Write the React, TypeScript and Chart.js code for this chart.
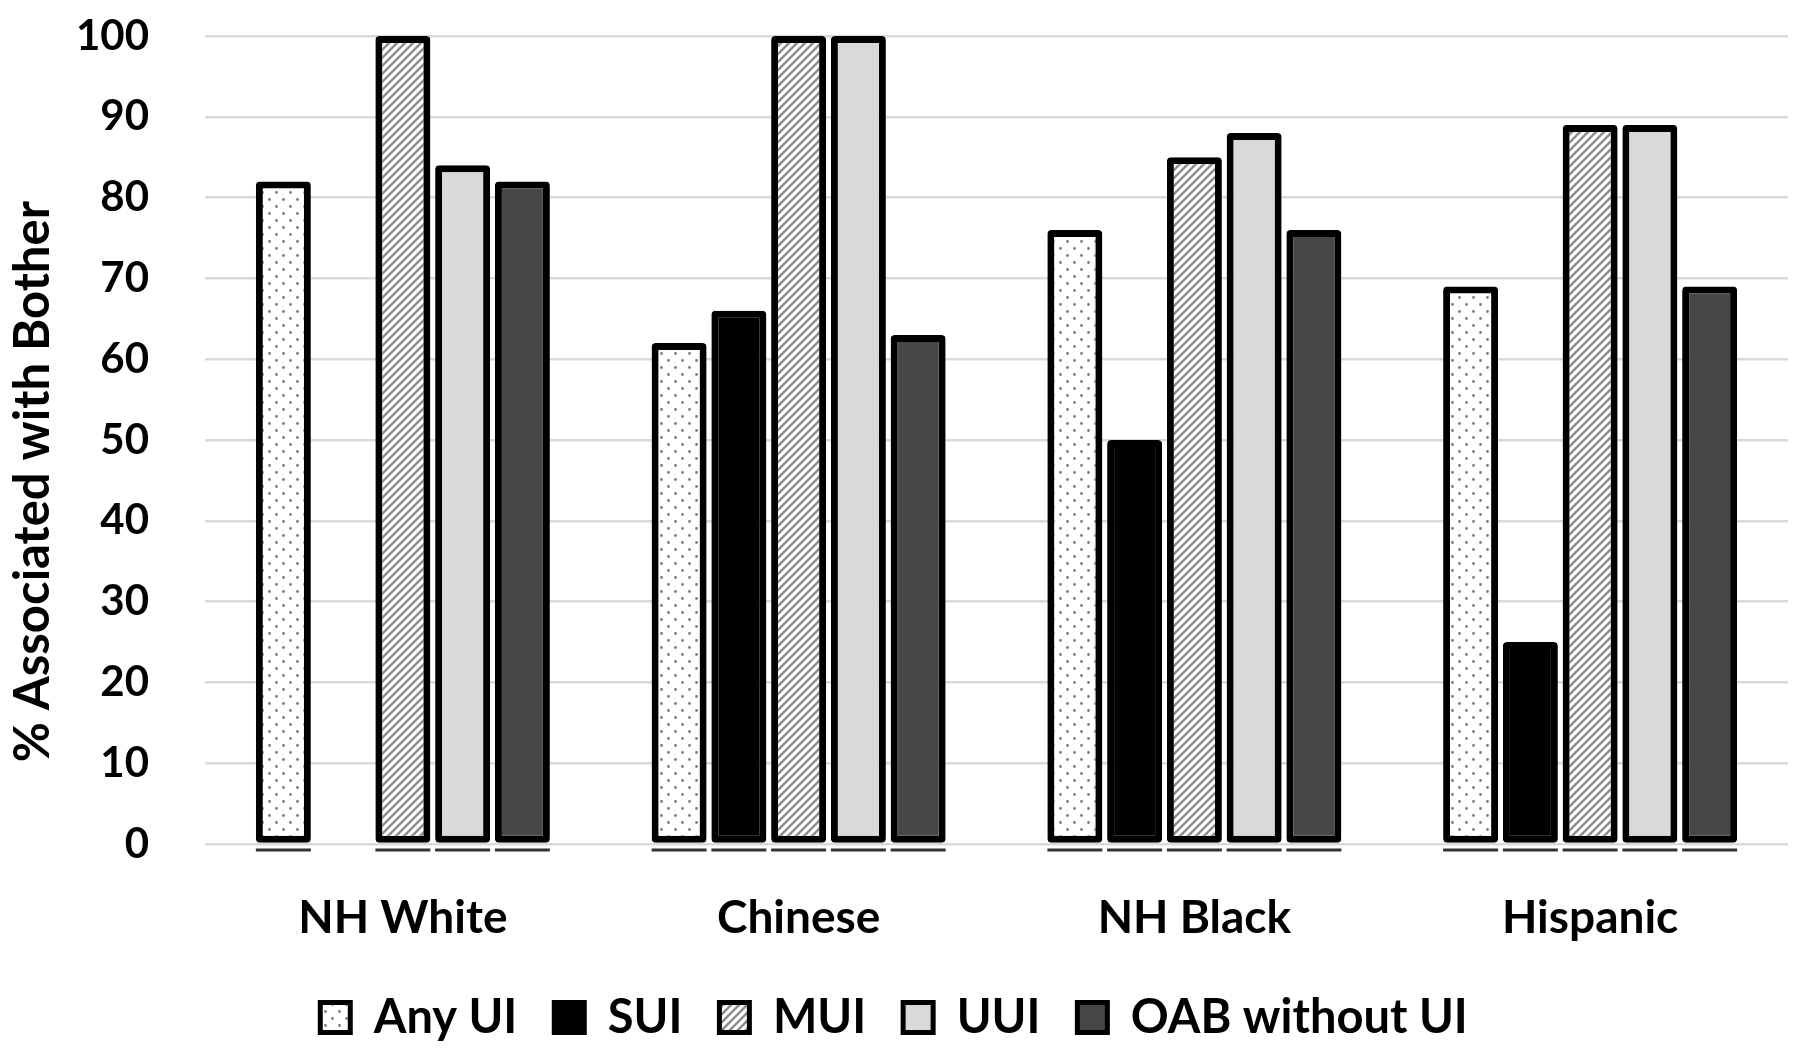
import { useEffect, useRef } from "react";
import { Chart, registerables } from "chart.js";

Chart.register(...registerables);

const categories = ["NH White", "Chinese", "NH Black", "Hispanic"];
const seriesNames = ["Any UI", "SUI", "MUI", "UUI", "OAB without UI"];
const anyUI = [82, 62, 76, 69];
const sui = [null, 66, 50, 25];
const mui = [100, 100, 85, 89];
const uui = [84, 100, 88, 89];
const oab = [82, 63, 76, 69];
const yMin = 0;
const yMax = 100;
const yStep = 10;
const yTitle = "% Associated with Bother       ";

const FONT = "Lato";

function dotPattern(): CanvasPattern | string {
  const c = document.createElement("canvas");
  c.width = 14;
  c.height = 14;
  const ctx = c.getContext("2d");
  if (!ctx) return "#fff";
  ctx.fillStyle = "#ffffff";
  ctx.fillRect(0, 0, 14, 14);
  ctx.fillStyle = "#7a7a7a";
  ctx.beginPath();
  ctx.arc(3.5, 3.5, 1.4, 0, Math.PI * 2);
  ctx.arc(10.5, 10.5, 1.4, 0, Math.PI * 2);
  ctx.fill();
  return ctx.createPattern(c, "repeat") || "#fff";
}

function diagPattern(): CanvasPattern | string {
  const s = 8;
  const c = document.createElement("canvas");
  c.width = s;
  c.height = s;
  const ctx = c.getContext("2d");
  if (!ctx) return "#fff";
  ctx.fillStyle = "#ffffff";
  ctx.fillRect(0, 0, s, s);
  ctx.strokeStyle = "#8c8c8c";
  ctx.lineWidth = 2.4;
  ctx.beginPath();
  ctx.moveTo(-2, s + 2);
  ctx.lineTo(s + 2, -2);
  ctx.moveTo(-2, 2);
  ctx.lineTo(2, -2);
  ctx.moveTo(s - 2, s + 2);
  ctx.lineTo(s + 2, s - 2);
  ctx.stroke();
  return ctx.createPattern(c, "repeat") || "#fff";
}

const underlinePlugin = {
  id: "underline",
  afterDatasetsDraw(chart: any) {
    const ctx = chart.ctx;
    const y0 = chart.scales.y.getPixelForValue(0);
    ctx.save();
    ctx.strokeStyle = "#333333";
    ctx.lineWidth = 3;
    chart.data.datasets.forEach((ds: any, i: number) => {
      const meta = chart.getDatasetMeta(i);
      meta.data.forEach((el: any, j: number) => {
        if (ds.data[j] === null || ds.data[j] === undefined) return;
        const half = el.width / 2;
        ctx.beginPath();
        ctx.moveTo(el.x - half, y0 + 6);
        ctx.lineTo(el.x + half, y0 + 6);
        ctx.stroke();
      });
    });
    ctx.restore();
  },
};

export default function App() {
  const ref = useRef<HTMLCanvasElement | null>(null);

  useEffect(() => {
    document.body.style.margin = "0";
    const canvas = ref.current;
    if (!canvas) return;
    const fills = [dotPattern(), "#000000", diagPattern(), "#d9d9d9", "#474747"];
    const values = [anyUI, sui, mui, uui, oab];
    const chart = new Chart(canvas, {
      type: "bar",
      data: {
        labels: categories,
        datasets: seriesNames.map((name, i) => ({
          label: name,
          data: values[i],
          backgroundColor: fills[i],
          borderColor: "#000000",
          borderWidth: 7,
          borderSkipped: false,
          borderRadius: 4,
          categoryPercentage: 0.755,
          barPercentage: 0.92,
        })),
      },
      options: {
        animation: false,
        responsive: false,
        devicePixelRatio: 1,
        layout: { padding: { top: 36, right: 12, left: 0, bottom: 6 } },
        plugins: {
          tooltip: { enabled: false },
          legend: {
            position: "bottom",
            labels: {
              color: "#000000",
              font: { family: FONT, size: 47, weight: "bold" },
              boxWidth: 30,
              boxHeight: 30,
              padding: 37,
              generateLabels: (c: any) =>
                Chart.defaults.plugins.legend.labels
                  .generateLabels(c)
                  .map((l: any) => ({ ...l, lineWidth: 5 })),
            },
          },
        },
        scales: {
          x: {
            grid: { display: false },
            border: { display: false },
            ticks: {
              color: "#000000",
              font: { family: FONT, size: 46, weight: "bold" },
              padding: 39,
            },
            afterFit: (s: any) => {
              s.height = 113;
            },
          },
          y: {
            min: yMin,
            max: yMax,
            ticks: {
              stepSize: yStep,
              color: "#000000",
              font: { family: FONT, size: 42, weight: "bold" },
              padding: 0,
            },
            grid: {
              color: "#d9d9d9",
              lineWidth: 2.5,
              drawTicks: true,
              tickLength: 56,
              tickColor: "rgba(0,0,0,0)",
            },
            border: { display: false },
            title: {
              display: true,
              text: yTitle,
              color: "#000000",
              font: { family: FONT, size: 49, weight: "bold" },
              padding: { top: 4, bottom: 0 },
            },
            afterFit: (s: any) => {
              s.width = 205;
            },
          },
        },
      },
      plugins: [underlinePlugin],
    } as any);
    return () => chart.destroy();
  }, []);

  return (
    <div style={{ width: 1800, height: 1057, background: "#ffffff" }}>
      <canvas ref={ref} width={1800} height={1057} />
    </div>
  );
}
